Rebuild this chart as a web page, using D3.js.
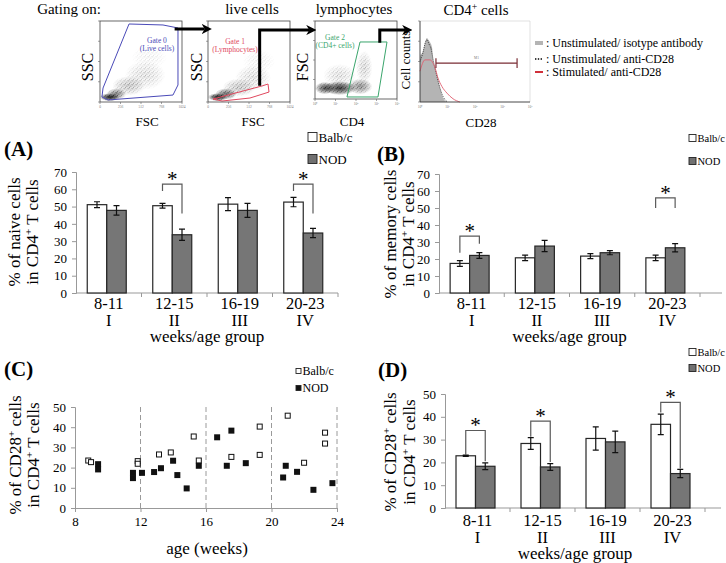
<!DOCTYPE html>
<html>
<head>
<meta charset="utf-8">
<script src="https://cdn.jsdelivr.net/npm/d3@7"></script>
<style>
  body { margin: 0; background: #fff; }
  svg { display: block; font-family: "Liberation Serif", "Times New Roman", serif; }
</style>
</head>
<body>
<svg id="fig" width="726" height="563"></svg>
<script>
const SERIF = '"Liberation Serif", "Times New Roman", serif';

// ---- data ----
const groups = ['8-11', '12-15', '16-19', '20-23'];
const romans = ['I', 'II', 'III', 'IV'];
const strains = ['Balb/c', 'NOD'];

// (A) naive cells
const naiveBalb = [51.1, 50.5, 51.4, 52.6];
const naiveBalbErr = [1.7, 1.4, 3.8, 2.7];
const naiveNod = [47.8, 33.7, 47.8, 34.7];
const naiveNodErr = [2.8, 3.2, 4.1, 2.7];
// (B) memory cells
const memoryBalb = [17.4, 20.7, 21.7, 20.7];
const memoryBalbErr = [1.7, 1.6, 1.5, 1.6];
const memoryNod = [22.1, 27.6, 23.7, 26.6];
const memoryNodErr = [1.7, 3.3, 1.2, 2.4];
// (D) CD28+ cells by group
const cd28Balb = [22.9, 28.3, 30.5, 36.7];
const cd28BalbErr = [0.3, 2.6, 5.1, 4.5];
const cd28Nod = [18.3, 18.0, 29.0, 15.1];
const cd28NodErr = [1.5, 1.5, 4.7, 1.8];

// significance brackets: [group, top, left leg end, right leg end]
const naiveSig = [['12-15', 63, 59, 46], ['20-23', 63, 59, 46]];
const memorySig = [['8-11', 33.5, 23.7, 29], ['20-23', 56, 50, 50]];
const cd28Sig = [['8-11', 34, 23.2, 20.5], ['12-15', 38.1, 31.2, 20.2], ['20-23', 46.3, 41.9, 17.3]];

// (C) individual mice
const balbAge = [8.81, 8.98, 11.83, 11.83, 13.13, 13.85, 15.25, 15.56, 17.55, 19.28, 19.28, 20.99, 21.99, 23.27, 23.27];
const balbCd28 = [23.5, 22.7, 23.2, 21.9, 26.5, 27.5, 35.4, 23.5, 25.3, 40.3, 26.3, 45.7, 22.4, 37.3, 31.9];
const nodAge = [9.41, 9.41, 11.54, 11.54, 12.09, 12.83, 13.25, 13.99, 14.25, 14.82, 15.56, 16.68, 17.27, 17.55, 18.43, 20.71, 20.87, 21.56, 22.56, 23.72];
const nodCd28 = [21.7, 19.1, 17.4, 14.8, 17.4, 17.8, 19.7, 23.4, 16.3, 9.7, 20.9, 35.0, 20.9, 38.3, 22.2, 15.1, 20.9, 17.9, 9.0, 12.3];
const ageTicks = [8, 12, 16, 20, 24];
const groupEdges = [12, 16, 20, 24];

// flow plots: density blobs [x, y, rx, ry, density] and gates, in plot fractions
const liveBlobs = [[0.12, 0.06, 0.12, 0.05, 1], [0.2, 0.1, 0.12, 0.07, 0.8], [0.35, 0.2, 0.2, 0.12, 0.55], [0.55, 0.33, 0.25, 0.18, 0.4], [0.6, 0.55, 0.22, 0.15, 0.2]];
const liveGate = [[0.354, 0.963], [0.768, 0.951], [0.951, 0.914], [0.951, 0.21], [0.89, 0.086], [0.098, 0.025], [0.024, 0.062], [0.037, 0.173]];
const lymphBlobs = [[0.12, 0.06, 0.12, 0.05, 1], [0.22, 0.1, 0.13, 0.07, 0.85], [0.38, 0.18, 0.2, 0.11, 0.55], [0.55, 0.3, 0.22, 0.16, 0.4], [0.62, 0.5, 0.2, 0.15, 0.2]];
const lymphGate = [[0.061, 0.037], [0.659, 0.198], [0.732, 0.222], [0.744, 0.123], [0.512, 0.049], [0.171, 0.012]];
const cd4Blobs = [[0.12, 0.14, 0.12, 0.08, 0.9], [0.3, 0.14, 0.2, 0.09, 0.95], [0.55, 0.16, 0.15, 0.1, 0.75], [0.6, 0.4, 0.1, 0.22, 0.45], [0.3, 0.3, 0.2, 0.15, 0.4]];
const cd4Gate = [[0.39, 0.026], [0.549, 0.731], [0.878, 0.731], [0.768, 0.026]];

// histogram (x in log decades, y in % of max)
const isotypeHist = [[0, 0], [0, 56], [0.1, 62], [0.18, 72], [0.25, 79], [0.3, 77], [0.36, 74], [0.44, 67], [0.47, 54], [0.55, 42], [0.62, 33], [0.73, 17], [0.84, 5], [0.98, 0]];
const unstimHist = [[0, 50], [0.1, 60], [0.2, 74], [0.26, 77], [0.32, 72], [0.4, 66], [0.48, 52], [0.6, 34], [0.72, 18], [0.85, 6], [1.0, 0]];
const stimHist = [[0, 38], [0.18, 52], [0.36, 52], [0.55, 42], [0.65, 30], [0.8, 19], [0.98, 11], [1.2, 4], [1.45, 0]];
const gateM1 = [0.58, 3.53, 48];
const histLegend = [': Unstimulated/ isotype antibody', ': Unstimulated/ anti-CD28', ': Stimulated/ anti-CD28'];

const svg = d3.select('#fig');
const defs = svg.append('defs');

function radial(id, color) {
  const grad = defs.append('radialGradient').attr('id', id);
  grad.append('stop').attr('offset', '0%').attr('stop-color', color).attr('stop-opacity', 1);
  grad.append('stop').attr('offset', '55%').attr('stop-color', color).attr('stop-opacity', 0.55);
  grad.append('stop').attr('offset', '100%').attr('stop-color', color).attr('stop-opacity', 0);
}
radial('blob', '#000');
radial('blobW', '#fff');

// speckle texture for the cell clouds
const speck = defs.append('pattern').attr('id', 'speck')
  .attr('width', 4).attr('height', 4).attr('patternUnits', 'userSpaceOnUse');
[[0.8, 0.8, 0.6], [2.9, 2.1, 0.55], [1.5, 3.3, 0.5], [3.5, 0.4, 0.4]].forEach(d =>
  speck.append('circle').attr('cx', d[0]).attr('cy', d[1]).attr('r', d[2]).attr('fill', '#111'));

defs.append('marker')
  .attr('id', 'arrow')
  .attr('viewBox', '0 0 10 10')
  .attr('refX', 3).attr('refY', 5)
  .attr('markerWidth', 3.4).attr('markerHeight', 3.4)
  .attr('orient', 'auto')
  .append('path').attr('d', 'M0,0L10,5L0,10L3,5z').attr('fill', '#000');

// text helper: parts = [[text, isSuperscript], ...]
function richText(sel, parts, size) {
  let raised = false;
  parts.forEach(([t, sup]) => {
    const ts = sel.append('tspan').text(t);
    if (sup && !raised) { ts.attr('dy', -size * 0.36).attr('font-size', size * 0.65); raised = true; }
    else if (!sup && raised) { ts.attr('dy', size * 0.36); raised = false; }
  });
  return sel;
}

function label(x, y, parts, size, opts = {}) {
  const t = svg.append('text')
    .attr('font-size', size)
    .attr('text-anchor', opts.anchor || 'middle')
    .attr('font-weight', opts.bold ? 'bold' : null)
    .attr('fill', opts.fill || '#000');
  if (opts.rotate) t.attr('transform', `translate(${x},${y}) rotate(-90)`);
  else t.attr('x', x).attr('y', y);
  return richText(t, typeof parts === 'string' ? [[parts, false]] : parts, size);
}

// ---------- top row: gating strategy ----------
label(69, 14, 'Gating on:', 15);
label(252, 14, 'live cells', 15);
label(354, 14, 'lymphocytes', 15);
label(476, 15, [['CD4', false], ['+', true], [' cells', false]], 15);

function flowPlot(f, blobs, gate, color, gateText, ticks) {
  const g = svg.append('g');
  const x = d3.scaleLinear().domain([0, 1]).range([f.x0, f.x1]);
  const y = d3.scaleLinear().domain([0, 1]).range([f.y1, f.y0]);
  const id = 'p' + f.x0;
  defs.append('clipPath').attr('id', 'clip' + id)
    .append('rect').attr('x', f.x0).attr('y', f.y0).attr('width', f.x1 - f.x0).attr('height', f.y1 - f.y0);
  const ell = sel => sel
    .attr('cx', d => x(d[0])).attr('cy', d => y(d[1]))
    .attr('rx', d => x(d[2]) - x(0)).attr('ry', d => y(0) - y(d[3]));
  defs.append('mask').attr('id', 'mask' + id)
    .selectAll('ellipse').data(blobs).join('ellipse').call(ell)
    .attr('fill', 'url(#blobW)').attr('opacity', d => d[4]);
  const cloud = g.append('g').attr('clip-path', `url(#clip${id})`);
  cloud.append('rect').attr('x', f.x0).attr('y', f.y0).attr('width', f.x1 - f.x0).attr('height', f.y1 - f.y0)
    .attr('fill', 'url(#speck)').attr('mask', `url(#mask${id})`);
  cloud.selectAll('ellipse').data(blobs).join('ellipse').call(ell)
    .attr('fill', 'url(#blob)').attr('opacity', d => Math.pow(d[4], 3) * 0.85);
  g.append('path').datum(gate)
    .attr('d', d3.line().x(d => x(d[0])).y(d => y(d[1])).curve(d3.curveLinearClosed))
    .attr('fill', 'none').attr('stroke', color).attr('stroke-width', 1);
  g.selectAll('text.gt').data(gateText.lines).join('text')
    .attr('x', x(gateText.x)).attr('y', (d, i) => y(gateText.y) + i * 8)
    .attr('text-anchor', 'middle').attr('font-size', 7.5).attr('fill', color).text(d => d);
  g.append('rect').attr('x', f.x0).attr('y', f.y0).attr('width', f.x1 - f.x0).attr('height', f.y1 - f.y0)
    .attr('fill', 'none').attr('stroke', '#444').attr('stroke-width', 0.8);
  const tv = [0, 0.25, 0.5, 0.75, 1];
  g.selectAll('line.tx').data(tv).join('line')
    .attr('x1', d => x(d)).attr('x2', d => x(d)).attr('y1', f.y1).attr('y2', f.y1 + 2).attr('stroke', '#666').attr('stroke-width', 0.6);
  g.selectAll('line.ty').data(tv).join('line')
    .attr('y1', d => y(d)).attr('y2', d => y(d)).attr('x1', f.x0).attr('x2', f.x0 - 2).attr('stroke', '#666').attr('stroke-width', 0.6);
  g.selectAll('text.tl').data(ticks).join('text')
    .attr('x', (d, i) => x(tv[i])).attr('y', f.y1 + 6).attr('text-anchor', 'middle')
    .attr('font-size', 3.5).attr('fill', '#777').text(d => d);
  return {x, y};
}

const linTicks = ['0', '256', '512', '768', '1024'];
const logTicks = ['10⁰', '10¹', '10²', '10³', '10⁴'];
const p1 = flowPlot({x0: 100, x1: 182, y0: 21, y1: 102}, liveBlobs, liveGate, '#4a4ab8',
  {x: 0.695, y: 0.728, lines: ['Gate 0', '(Live cells)']}, linTicks);
const p2 = flowPlot({x0: 208, x1: 290, y0: 21, y1: 102}, lymphBlobs, lymphGate, '#e0485e',
  {x: 0.33, y: 0.716, lines: ['Gate 1', '(Lymphocytes)']}, linTicks);
const p3 = flowPlot({x0: 315, x1: 397, y0: 21, y1: 99}, cd4Blobs, cd4Gate, '#3aa56c',
  {x: 0.244, y: 0.756, lines: ['Gate 2', '(CD4+ cells)']}, logTicks);

label(93, 67, 'SSC', 16, {rotate: true});
label(202, 67, 'SSC', 16, {rotate: true});
label(308, 67, 'FSC', 16, {rotate: true});
label(410, 60, 'Cell counts', 13, {rotate: true});
label(147, 126, 'FSC', 13);
label(253, 126, 'FSC', 13);
label(352, 126, 'CD4', 13);
label(481, 127, 'CD28', 13);

// arrows between gates
const arrows = [
  [[p1.x(0.91), 29], [p2.x(-0.04), 29]],
  [[p2.x(0.63), p2.y(0.2)], [p2.x(0.63), 30], [p3.x(-0.07), 30]],
  [[p3.x(0.79), p3.y(0.72)], [p3.x(0.79), 30], [p3.x(1.1), 30]]
];
svg.selectAll('path.arrow').data(arrows).join('path')
  .attr('d', d3.line()).attr('fill', 'none').attr('stroke', '#000').attr('stroke-width', 3)
  .attr('marker-end', 'url(#arrow)');

// histogram
{
  const hx = d3.scaleLinear().domain([0, 4]).range([420, 530]);
  const hy = d3.scaleLinear().domain([0, 100]).range([102, 21]);
  const g = svg.append('g');
  g.append('path').datum(isotypeHist)
    .attr('d', d3.area().x(d => hx(d[0])).y0(hy(0)).y1(d => hy(d[1])).curve(d3.curveMonotoneX))
    .attr('fill', '#b4b4b4');
  g.append('path').datum(unstimHist)
    .attr('d', d3.line().x(d => hx(d[0])).y(d => hy(d[1])).curve(d3.curveMonotoneX))
    .attr('fill', 'none').attr('stroke', '#222').attr('stroke-width', 0.8).attr('stroke-dasharray', '1,1');
  g.append('path').datum(stimHist)
    .attr('d', d3.line().x(d => hx(d[0])).y(d => hy(d[1])).curve(d3.curveMonotoneX))
    .attr('fill', 'none').attr('stroke', '#e06070').attr('stroke-width', 0.9);
  g.append('path').attr('d', `M${hx(0)},${hy(100)}H${hx(4)}V${hy(0)}`).attr('fill', 'none').attr('stroke', '#ccc').attr('stroke-width', 0.6);
  g.append('path').attr('d', `M${hx(0)},${hy(100)}V${hy(0)}H${hx(4)}`).attr('fill', 'none').attr('stroke', '#333').attr('stroke-width', 0.9);
  const [m0, m1, mh] = gateM1;
  g.append('path')
    .attr('d', `M${hx(m0)},${hy(mh + 6)}V${hy(mh - 6)}M${hx(m0)},${hy(mh)}H${hx(m1)}M${hx(m1)},${hy(mh + 6)}V${hy(mh - 6)}`)
    .attr('fill', 'none').attr('stroke', '#7a2d35').attr('stroke-width', 1.2);
  g.append('text').attr('x', hx((m0 + m1) / 2)).attr('y', hy(mh) - 4).attr('text-anchor', 'middle')
    .attr('font-size', 3.5).attr('fill', '#777').text('M1');
  g.selectAll('text.ht').data(logTicks).join('text')
    .attr('x', (d, i) => hx(i)).attr('y', 108).attr('text-anchor', 'middle')
    .attr('font-size', 3.5).attr('fill', '#777').text(d => d);
  g.selectAll('line.hty').data([0, 25, 50, 75, 100]).join('line')
    .attr('x1', hx(0) - 2).attr('x2', hx(0)).attr('y1', d => hy(d)).attr('y2', d => hy(d)).attr('stroke', '#666').attr('stroke-width', 0.6);

  const lg = svg.append('g');
  const ly = [43, 59, 72];
  lg.append('rect').attr('x', 535).attr('y', ly[0] - 2).attr('width', 8).attr('height', 4).attr('fill', '#b4b4b4');
  lg.append('line').attr('x1', 535).attr('x2', 543).attr('y1', ly[1]).attr('y2', ly[1])
    .attr('stroke', '#000').attr('stroke-width', 1.4).attr('stroke-dasharray', '1.4,1.4');
  lg.append('line').attr('x1', 535).attr('x2', 543).attr('y1', ly[2]).attr('y2', ly[2])
    .attr('stroke', '#d0303a').attr('stroke-width', 2);
  lg.selectAll('text').data(histLegend).join('text')
    .attr('x', 546).attr('y', (d, i) => ly[i] + 4).attr('font-size', 12).text(d => d);
}

// ---------- bar panels ----------
function styleAxis(a, size) {
  a.attr('font-family', SERIF).attr('font-size', size);
  a.select('.domain').attr('stroke', '#999');
  a.selectAll('.tick line').attr('stroke', '#999');
  a.selectAll('.tick text').attr('fill', '#000');
}

function legendBox(x, y, gap, size, fontSize, nodFill) {
  const g = svg.append('g');
  strains.forEach((s, i) => {
    const cy = y + i * gap;
    g.append('rect').attr('x', x).attr('y', cy - size / 2).attr('width', size).attr('height', size)
      .attr('fill', s === 'NOD' ? nodFill : '#fff')
      .attr('stroke', '#222').attr('stroke-width', 0.9);
    g.append('text').attr('x', x + size + 1.5).attr('y', cy + fontSize * 0.35)
      .attr('font-size', fontSize).text(s);
  });
}

function barPanel(p) {
  const g = svg.append('g');
  const x = d3.scaleBand().domain(groups).range([p.x0, p.x1]);
  const sub = d3.scaleBand().domain(strains).range([0, 39]);
  const y = d3.scaleLinear().domain([0, p.max]).range([p.yb, p.yt]);
  const off = (x.bandwidth() - 39) / 2 - 2;
  const rows = groups.flatMap((grp, i) => [
    {grp, s: 'Balb/c', v: p.balb[i], e: p.balbErr[i]},
    {grp, s: 'NOD', v: p.nod[i], e: p.nodErr[i]}
  ]);
  const cx = d => x(d.grp) + off + sub(d.s) + sub.bandwidth() / 2;

  const ya = g.append('g').attr('transform', `translate(${p.x0},0)`)
    .call(d3.axisLeft(y).tickValues(d3.range(0, p.max + 1, 10)).tickSize(4).tickPadding(5));
  styleAxis(ya, 13);

  g.append('line').attr('x1', p.x0).attr('x2', p.xEnd).attr('y1', y(0)).attr('y2', y(0)).attr('stroke', '#999');
  g.selectAll('line.bt').data(groups).join('line')
    .attr('x1', d => x(d) + x.bandwidth()).attr('x2', d => x(d) + x.bandwidth())
    .attr('y1', y(0)).attr('y2', y(0) + 4).attr('stroke', '#999');

  g.selectAll('rect.bar').data(rows).join('rect')
    .attr('x', d => cx(d) - sub.bandwidth() / 2).attr('y', d => y(d.v))
    .attr('width', sub.bandwidth()).attr('height', d => y(0) - y(d.v))
    .attr('fill', d => d.s === 'NOD' ? '#767676' : '#fff')
    .attr('stroke', '#262626').attr('stroke-width', 1.2);

  g.selectAll('path.err').data(rows).join('path')
    .attr('d', d => {
      const a = y(d.v + d.e), b = y(d.v - d.e), c = cx(d);
      return `M${c},${a}V${b}M${c - 3},${a}H${c + 3}M${c - 3},${b}H${c + 3}`;
    })
    .attr('fill', 'none').attr('stroke', '#111').attr('stroke-width', 1.2);

  const bcx = (grp, s) => x(grp) + off + sub(s) + sub.bandwidth() / 2;
  g.selectAll('path.sig').data(p.sig).join('path')
    .attr('d', d => {
      const l = bcx(d[0], 'Balb/c'), r = bcx(d[0], 'NOD');
      return `M${l},${y(d[2])}V${y(d[1])}H${r}V${y(d[3])}`;
    })
    .attr('fill', 'none').attr('stroke', '#5a5a5a').attr('stroke-width', 1.2);
  g.selectAll('text.star').data(p.sig).join('text')
    .attr('x', d => (bcx(d[0], 'Balb/c') + bcx(d[0], 'NOD')) / 2)
    .attr('y', d => y(d[1]) + 2)
    .attr('text-anchor', 'middle').attr('font-size', 21).text('*');

  g.selectAll('text.cat').data(groups).join('text')
    .attr('x', d => x(d) + x.bandwidth() / 2).attr('y', p.catY)
    .attr('text-anchor', 'middle').attr('font-size', 16.5).text(d => d);
  g.selectAll('text.rom').data(romans).join('text')
    .attr('x', (d, i) => x(groups[i]) + x.bandwidth() / 2).attr('y', p.catY + 17)
    .attr('text-anchor', 'middle').attr('font-size', 16.5).text(d => d);
  label((p.x0 + p.x1) / 2, p.catY + 33, 'weeks/age group', 17);

  label(p.lab[0], p.lab[1], p.lab[2], 21, {anchor: 'start', bold: true});
  label(p.ylab[0], p.ylab[2], p.ylab[3], 17, {rotate: true});
  label(p.ylab[1], p.ylab[2], [['in CD4', false], ['+', true], [' T cells', false]], 17, {rotate: true});
  legendBox(p.leg[0], p.leg[1], p.leg[2], p.leg[3], p.leg[4], '#707070');
}

barPanel({
  x0: 76, x1: 338, xEnd: 338, yb: 293, yt: 172, max: 70,
  balb: naiveBalb, balbErr: naiveBalbErr, nod: naiveNod, nodErr: naiveNodErr, sig: naiveSig,
  catY: 309, lab: [4, 156, '(A)'], ylab: [20, 38, 232, [['% of naive cells', false]]], leg: [308, 137, 22, 9, 13]
});
barPanel({
  x0: 439, x1: 700, xEnd: 722, yb: 293, yt: 174, max: 70,
  balb: memoryBalb, balbErr: memoryBalbErr, nod: memoryNod, nodErr: memoryNodErr, sig: memorySig,
  catY: 309, lab: [377, 161, '(B)'], ylab: [396, 414, 234, [['% of memory cells', false]]], leg: [689, 138, 23, 7, 10.5]
});
barPanel({
  x0: 445, x1: 705, xEnd: 721, yb: 508, yt: 394, max: 50,
  balb: cd28Balb, balbErr: cd28BalbErr, nod: cd28Nod, nodErr: cd28NodErr, sig: cd28Sig,
  catY: 526, lab: [378, 377, '(D)'], ylab: [396, 415, 452, [['% of CD28', false], ['+', true], [' cells', false]]], leg: [689, 352, 16, 7, 10.5]
});

// ---------- (C) scatter ----------
{
  const x = d3.scaleLinear().domain([8, 24]).range([75, 337]);
  const y = d3.scaleLinear().domain([0, 50]).range([508, 407]);
  const g = svg.append('g');
  g.selectAll('line.edge').data(groupEdges).join('line')
    .attr('x1', d => x(d)).attr('x2', d => x(d)).attr('y1', y(0)).attr('y2', y(50))
    .attr('stroke', '#9a9a9a').attr('stroke-width', 1).attr('stroke-dasharray', '5,3');
  const ya = g.append('g').attr('transform', `translate(${x(8)},0)`)
    .call(d3.axisLeft(y).tickValues(d3.range(0, 51, 10)).tickSize(4).tickPadding(5));
  styleAxis(ya, 13);
  const xa = g.append('g').attr('transform', `translate(0,${y(0)})`)
    .call(d3.axisBottom(x).tickValues(ageTicks).tickSize(4).tickPadding(5));
  styleAxis(xa, 13);

  const balb = balbAge.map((a, i) => [a, balbCd28[i]]);
  const nod = nodAge.map((a, i) => [a, nodCd28[i]]);
  g.selectAll('rect.balb').data(balb).join('rect')
    .attr('x', d => x(d[0]) - 2.5).attr('y', d => y(d[1]) - 2.5).attr('width', 5).attr('height', 5)
    .attr('fill', '#fff').attr('stroke', '#111').attr('stroke-width', 1);
  g.selectAll('rect.nod').data(nod).join('rect')
    .attr('x', d => x(d[0]) - 3).attr('y', d => y(d[1]) - 3).attr('width', 6).attr('height', 6)
    .attr('fill', '#111');

  label(207, 554, 'age (weeks)', 17);
  label(4, 376, '(C)', 21, {anchor: 'start', bold: true});
  label(21, 455, [['% of CD28', false], ['+', true], [' cells', false]], 17, {rotate: true});
  label(39, 455, [['in CD4', false], ['+', true], [' T cells', false]], 17, {rotate: true});
  legendBox(296, 371, 17, 5, 12, '#111');
}
</script>
</body>
</html>
